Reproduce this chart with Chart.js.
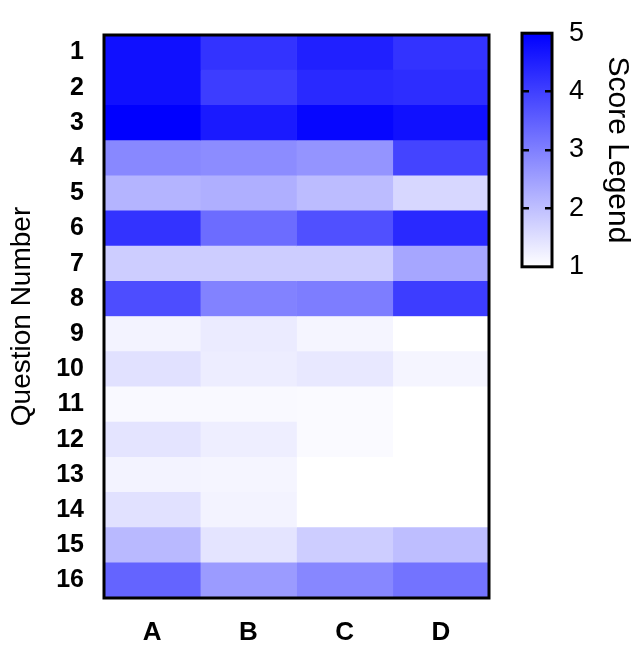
<!DOCTYPE html>
<html>
<head>
<meta charset="utf-8">
<script src="https://cdn.jsdelivr.net/npm/chart.js@4/dist/chart.umd.min.js"></script>
<style>
  html, body { margin: 0; padding: 0; background: #ffffff; }
  #wrap { position: relative; width: 637px; height: 646px; }
  #main { position: absolute; left: 0; top: 0; }
  #bar { position: absolute; left: 500px; top: 0; }
</style>
</head>
<body>
<div id="wrap">
  <canvas id="main" width="637" height="646"></canvas>
  <canvas id="bar" width="137" height="300"></canvas>
</div>
<script>
// ---- data ----
const questions = ['1','2','3','4','5','6','7','8','9','10','11','12','13','14','15','16'];
const columns = ['A','B','C','D'];
const scoreA = [4.75, 4.75, 5.00, 2.87, 2.18, 4.20, 1.78, 3.80, 1.19, 1.47, 1.10, 1.42, 1.19, 1.47, 2.10, 3.43];
const scoreB = [4.20, 4.05, 4.60, 2.80, 2.25, 3.30, 1.78, 2.96, 1.31, 1.28, 1.10, 1.27, 1.16, 1.19, 1.42, 2.57];
const scoreC = [4.50, 4.35, 4.90, 2.68, 2.05, 3.75, 1.78, 3.04, 1.16, 1.36, 1.08, 1.08, 1.00, 1.00, 1.78, 2.88];
const scoreD = [4.20, 4.30, 4.75, 3.93, 1.63, 4.35, 2.40, 4.05, 1.00, 1.16, 1.00, 1.00, 1.00, 1.00, 2.02, 3.20];
const legendTicks = [1, 2, 3, 4, 5];
const scoreMin = 1, scoreMax = 5;

const scores = [scoreA, scoreB, scoreC, scoreD];

function colorFor(v) {
  const t = Math.max(0, Math.min(1, (v - scoreMin) / (scoreMax - scoreMin)));
  const c = Math.round(255 * (1 - t));
  return 'rgb(' + c + ',' + c + ',255)';
}

const frame = {
  id: 'frame',
  afterDraw(chart) {
    const a = chart.chartArea, ctx = chart.ctx;
    ctx.save();
    ctx.strokeStyle = '#000';
    ctx.lineWidth = 3;
    ctx.strokeRect(a.left, a.top, a.right - a.left, a.bottom - a.top);
    ctx.restore();
  }
};

const FONT = "'Liberation Sans', Arial, Helvetica, sans-serif";

new Chart(document.getElementById('main'), {
  type: 'bar',
  data: {
    labels: questions,
    datasets: columns.map((c, j) => ({
      label: c,
      data: questions.map(() => [j, j + 1]),
      backgroundColor: scores[j].map(colorFor),
      borderWidth: 0,
      grouped: false,
      barPercentage: 1,
      categoryPercentage: 1
    }))
  },
  options: {
    indexAxis: 'y',
    responsive: false,
    animation: false,
    layout: { padding: { top: 22, right: 148, left: 0, bottom: 0 } },
    plugins: { legend: { display: false }, tooltip: { enabled: false } },
    scales: {
      x: {
        type: 'linear', min: 0, max: columns.length,
        grid: { display: false, drawTicks: false },
        border: { display: false },
        afterBuildTicks: (s) => { s.ticks = columns.map((_, i) => ({ value: i + 0.5 })); },
        afterFit: (s) => { s.height = 48; },
        ticks: {
          autoSkip: false, maxRotation: 0,
          padding: 19,
          color: '#000',
          font: { family: FONT, size: 26, weight: 'bold' },
          callback: (v) => columns[Math.floor(v)]
        }
      },
      y: {
        type: 'category',
        grid: { display: false, drawTicks: false },
        border: { display: false },
        afterFit: (s) => { s.width = 104; },
        ticks: {
          autoSkip: false,
          padding: 20,
          color: '#000',
          font: { family: FONT, size: 25, weight: 'bold' }
        },
        title: {
          display: true, text: 'Question Number', color: '#000',
          padding: { top: 5, bottom: 0 },
          font: { family: FONT, size: 28 }
        }
      }
    }
  },
  plugins: [frame]
});

new Chart(document.getElementById('bar'), {
  type: 'bar',
  data: {
    labels: ['score'],
    datasets: [{
      data: [[scoreMin, scoreMax]],
      borderWidth: 0,
      barPercentage: 1,
      categoryPercentage: 1,
      backgroundColor: (ctx) => {
        const ca = ctx.chart.chartArea;
        if (!ca) return colorFor(3);
        const g = ctx.chart.ctx.createLinearGradient(0, ca.bottom, 0, ca.top);
        g.addColorStop(0, colorFor(scoreMin));
        g.addColorStop(1, colorFor(scoreMax));
        return g;
      }
    }]
  },
  options: {
    responsive: false,
    animation: false,
    layout: { padding: { top: 22, left: 22, right: 0, bottom: 20 } },
    plugins: { legend: { display: false }, tooltip: { enabled: false } },
    scales: {
      x: { display: false },
      y: {
        type: 'linear', position: 'right', min: scoreMin, max: scoreMax,
        afterBuildTicks: (s) => { s.ticks = legendTicks.map(v => ({ value: v })); },
        afterFit: (s) => { s.width = 85; },
        grid: {
          z: 1,
          drawTicks: false,
          lineWidth: 2.5,
          color: (c) => (c.tick && c.tick.value > scoreMin && c.tick.value < scoreMax) ? '#000' : 'rgba(0,0,0,0)'
        },
        border: { display: false, dash: [7, 16] },
        ticks: {
          padding: 17,
          color: '#000',
          font: { family: FONT, size: 27 }
        },
        title: {
          display: true, text: 'Score Legend', color: '#000',
          padding: { top: 2, bottom: 0 },
          font: { family: FONT, size: 30 }
        }
      }
    }
  },
  plugins: [frame]
});
</script>
</body>
</html>
